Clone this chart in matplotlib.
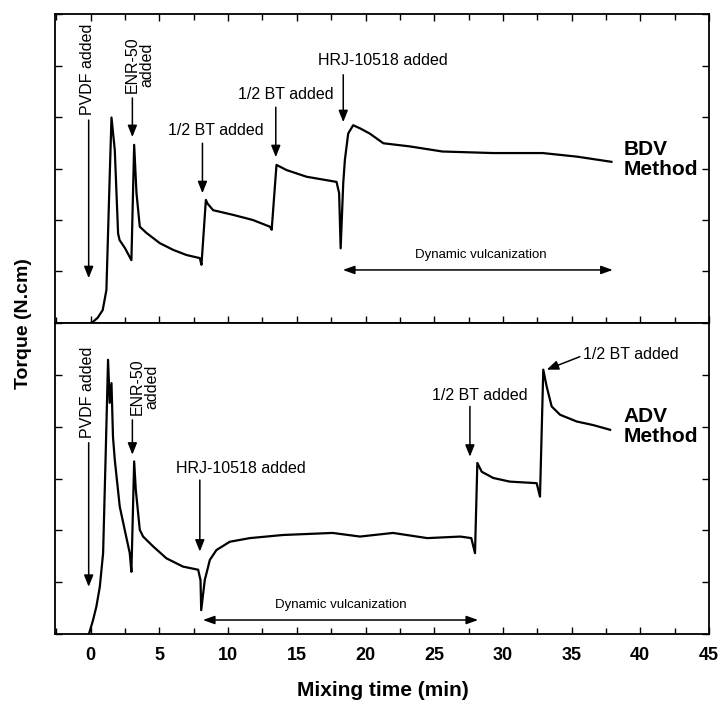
import matplotlib
matplotlib.use('Agg')
import matplotlib.pyplot as plt
from matplotlib.ticker import MultipleLocator, NullFormatter

plt.rcParams['font.family'] = ['Liberation Sans', 'DejaVu Sans']

# BDV method torque curve (top panel)
bdv_t = [0.0, 0.15, 0.5, 0.87, 1.14, 1.33, 1.51, 1.75, 1.99, 2.1, 2.5, 2.96, 3.16, 3.33,
         3.57, 4.05, 5.03, 6.0, 6.97, 7.94, 8.06, 8.38, 8.5, 8.91, 10.36, 11.8, 13.04,
         13.17, 13.52, 14.25, 15.71, 17.89, 18.08, 18.19, 18.38, 18.5, 18.74, 19.1,
         19.6, 20.3, 21.3, 23.2, 25.6, 29.3, 32.9, 35.4, 37.9]
bdv_y = [0.0, 0.02, 0.1, 0.25, 0.64, 2.39, 3.99, 3.36, 1.74, 1.61, 1.45, 1.22, 3.46, 2.52,
         1.87, 1.75, 1.55, 1.42, 1.32, 1.26, 1.13, 2.39, 2.32, 2.19, 2.10, 2.0, 1.87,
         1.81, 3.07, 2.97, 2.84, 2.74, 2.52, 1.45, 2.72, 3.17, 3.68, 3.84,
         3.78, 3.68, 3.49, 3.43, 3.33, 3.30, 3.30, 3.23, 3.13]

# ADV method torque curve (bottom panel)
adv_t = [-0.12, 0.17, 0.41, 0.66, 0.9, 1.09, 1.26, 1.38, 1.51, 1.62, 1.75, 2.11, 2.48,
         2.84, 2.96, 3.16, 3.28, 3.57, 3.81, 4.54, 5.51, 6.72, 7.82, 7.99, 8.04, 8.3,
         8.67, 9.15, 10.12, 11.58, 13.98, 17.6, 19.6, 22.0, 24.5, 26.9, 27.7, 27.97,
         28.14, 28.46, 29.3, 30.5, 32.46, 32.7, 32.94, 33.19, 33.55, 34.16, 35.37,
         36.58, 37.8]
adv_y = [0.01, 0.27, 0.53, 0.91, 1.56, 3.49, 5.29, 4.46, 4.84, 3.80, 3.36, 2.46, 2.0,
         1.56, 1.20, 3.33, 2.78, 2.01, 1.88, 1.69, 1.46, 1.30, 1.24, 1.04, 0.46, 1.04,
         1.43, 1.62, 1.78, 1.85, 1.91, 1.95, 1.88, 1.95, 1.85, 1.88, 1.85, 1.56,
         3.30, 3.13, 3.01, 2.94, 2.91, 2.65, 5.10, 4.77, 4.39, 4.23, 4.10, 4.03,
         3.94]

x_ticks = [0, 5, 10, 15, 20, 25, 30, 35, 40, 45]

fig = plt.figure(figsize=(7.23, 7.08), dpi=100)
ax1 = fig.add_axes([0.0761, 0.5438, 0.9045, 0.4364])
ax2 = fig.add_axes([0.0761, 0.1045, 0.9045, 0.4393])

ax1.plot(bdv_t, bdv_y, color='black', lw=1.6)
ax2.plot(adv_t, adv_y, color='black', lw=1.6)

for ax in (ax1, ax2):
    ax.set_xlim(-2.6, 45)
    ax.set_ylim(0, 6)
    ax.set_xticks(x_ticks)
    ax.xaxis.set_minor_locator(MultipleLocator(2.5))
    ax.yaxis.set_major_locator(MultipleLocator(1))
    ax.yaxis.set_major_formatter(NullFormatter())
    for s in ax.spines.values():
        s.set_linewidth(1.3)
    ax.tick_params(axis='y', which='major', direction='in', length=5, width=1,
                   left=True, right=True)

ax1.tick_params(axis='x', which='both', direction='in', top=True, bottom=True,
                labelbottom=False, width=1)
ax1.tick_params(axis='x', which='major', length=5)
ax1.tick_params(axis='x', which='minor', length=4)
ax2.tick_params(axis='x', which='both', direction='in', top=False, bottom=True, width=1)
ax2.tick_params(axis='x', which='major', length=5, labelsize=13, pad=9)
ax2.tick_params(axis='x', which='minor', length=4)
for lab in ax2.get_xticklabels():
    lab.set_fontweight('bold')

arrow = dict(arrowstyle='-|>,head_length=0.7,head_width=0.28', color='black', lw=1.1,
             shrinkA=0, shrinkB=0)
darrow = dict(arrowstyle='<|-|>,head_length=0.7,head_width=0.25', color='black', lw=1.1,
              shrinkA=0, shrinkB=0)
fs = 11.5

# top panel annotations
ax1.text(-0.2, 4.93, 'PVDF added', rotation=90, ha='center', va='center', fontsize=fs)
ax1.annotate('', xy=(-0.15, 0.87), xytext=(-0.15, 3.94), arrowprops=arrow)
ax1.text(3.57, 4.47, 'ENR-50\nadded', rotation=90, ha='center', va='bottom',
         multialignment='center', fontsize=fs, linespacing=1.0)
ax1.annotate('', xy=(3.03, 3.61), xytext=(3.03, 4.37), arrowprops=arrow)
ax1.text(9.07, 3.73, '1/2 BT added', ha='center', va='center', fontsize=fs)
ax1.annotate('', xy=(8.13, 2.52), xytext=(8.13, 3.49), arrowprops=arrow)
ax1.text(14.2, 4.43, '1/2 BT added', ha='center', va='center', fontsize=fs)
ax1.annotate('', xy=(13.47, 3.22), xytext=(13.47, 4.19), arrowprops=arrow)
ax1.text(21.3, 5.09, 'HRJ-10518 added', ha='center', va='center', fontsize=fs)
ax1.annotate('', xy=(18.38, 3.9), xytext=(18.38, 4.82), arrowprops=arrow)
ax1.annotate('', xy=(38.0, 1.03), xytext=(18.35, 1.03), arrowprops=darrow)
ax1.text(28.4, 1.32, 'Dynamic vulcanization', ha='center', va='center', fontsize=9.5)
ax1.text(38.8, 3.17, 'BDV\nMethod', ha='left', va='center', fontsize=15,
         fontweight='bold', linespacing=1.05)

# bottom panel annotations
ax2.text(-0.2, 4.67, 'PVDF added', rotation=90, ha='center', va='center', fontsize=fs)
ax2.annotate('', xy=(-0.15, 0.91), xytext=(-0.15, 3.69), arrowprops=arrow)
ax2.text(3.93, 4.23, 'ENR-50\nadded', rotation=90, ha='center', va='bottom',
         multialignment='center', fontsize=fs, linespacing=1.0)
ax2.annotate('', xy=(3.03, 3.46), xytext=(3.03, 4.13), arrowprops=arrow)
ax2.text(10.9, 3.2, 'HRJ-10518 added', ha='center', va='center', fontsize=fs)
ax2.annotate('', xy=(7.94, 1.59), xytext=(7.94, 2.97), arrowprops=arrow)
ax2.annotate('', xy=(28.2, 0.27), xytext=(8.16, 0.27), arrowprops=darrow)
ax2.text(18.2, 0.56, 'Dynamic vulcanization', ha='center', va='center', fontsize=9.5)
ax2.text(28.3, 4.61, '1/2 BT added', ha='center', va='center', fontsize=fs)
ax2.annotate('', xy=(27.6, 3.42), xytext=(27.6, 4.39), arrowprops=arrow)
ax2.text(35.8, 5.4, '1/2 BT added', ha='left', va='center', fontsize=fs)
ax2.annotate('', xy=(33.19, 5.10), xytext=(35.6, 5.35), arrowprops=arrow)
ax2.text(38.8, 4.0, 'ADV\nMethod', ha='left', va='center', fontsize=15,
         fontweight='bold', linespacing=1.05)

fig.text(24 / 723, 1 - 324 / 708, 'Torque (N.cm)', rotation=90, ha='center', va='center',
         fontsize=14, fontweight='bold')
fig.text(383 / 723, 1 - 690 / 708, 'Mixing time (min)', ha='center', va='center',
         fontsize=15, fontweight='bold')

fig.savefig('out.png', dpi=100)
